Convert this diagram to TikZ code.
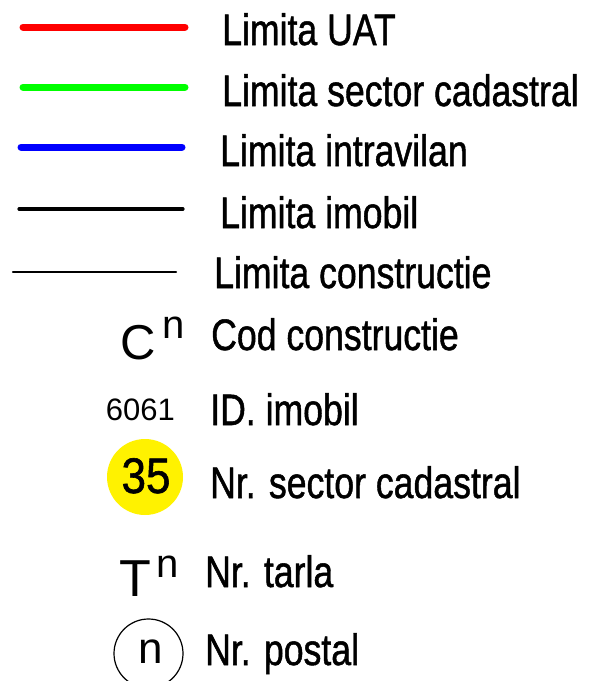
\documentclass[tikz,border=0pt]{standalone}
\usepackage{fontspec}
\setmainfont{Liberation Sans}
\newfontfamily\heavyfam[FakeBold=1.2]{Liberation Sans}

\newcommand{\legfont}{\heavyfam\fontsize{44}{44}\selectfont}
\newcommand{\narrowtxt}[1]{\scalebox{0.81}[1]{#1}}

\begin{document}
\begin{tikzpicture}[x=1pt, y=-1pt,
	legline/.style={line width=#1, line cap=round},
	legtext/.style={anchor=base west, inner sep=0pt, font=\legfont},
	symtext/.style={anchor=base west, inner sep=0pt, font=\fontsize{#1}{#1}\selectfont}]
		\useasboundingbox (0,0) rectangle (590,681);

		% sample lines
		\draw[legline=7pt, red]         (23,27) -- (185,27);
		\draw[legline=7pt, green]       (23,87) -- (185,87);
		\draw[legline=7pt, blue]        (21,147) -- (182,147);
		\draw[legline=3.2pt, black]     (19,209) -- (183,209);
		\draw[legline=2.4pt, black]     (13,272) -- (176,272);

		% symbols
		\node[symtext=49]  (cod)    at (120.5,359) {C};
		\node[symtext=40]  (codn)   at (162.5,338) {n};
		\node[symtext=31]  (idimo)  at (105.7,420) {6061};
		\node[circle, fill=yellow, minimum size=76pt, inner sep=0pt] (sector) at (145,477) {};
		\node[anchor=base, inner sep=0pt, font=\heavyfam\fontsize{50}{50}\selectfont] (sectornr) at (146,493) {\scalebox{0.88}[1]{35}};
		\node[symtext=52]  (tarla)  at (119,596) {T};
		\node[symtext=40]  (tarlan) at (156.5,577) {n};
		\node[circle, draw, line width=1.2pt, minimum size=69pt, inner sep=0pt] (postal) at (148.5,653.5) {};
		\node[anchor=base, inner sep=0pt, font=\fontsize{44}{44}\selectfont] (postaln) at (151,663) {n};

		% labels
		\node[legtext] (uat)     at (222,45)  {\narrowtxt{Limita UAT}};
		\node[legtext] (sect)    at (222,106) {\narrowtxt{Limita sector cadastral}};
		\node[legtext] (intra)   at (220,166) {\narrowtxt{Limita intravilan}};
		\node[legtext] (imob)    at (220,228) {\narrowtxt{Limita imobil}};
		\node[legtext] (constr)  at (214,288) {\narrowtxt{Limita constructie}};
		\node[legtext] (codtxt)  at (211,350) {\narrowtxt{Cod constructie}};
		\node[legtext] (idtxt)   at (210,425) {\narrowtxt{ID. imobil}};
		\node[legtext] (secttxt) at (210,498) {\narrowtxt{Nr. sector cadastral}};
		\node[legtext] (tartxt)  at (205,587) {\narrowtxt{Nr. tarla}};
		\node[legtext] (posttxt) at (205,665) {\narrowtxt{Nr. postal}};

	\end{tikzpicture}
\end{document}
